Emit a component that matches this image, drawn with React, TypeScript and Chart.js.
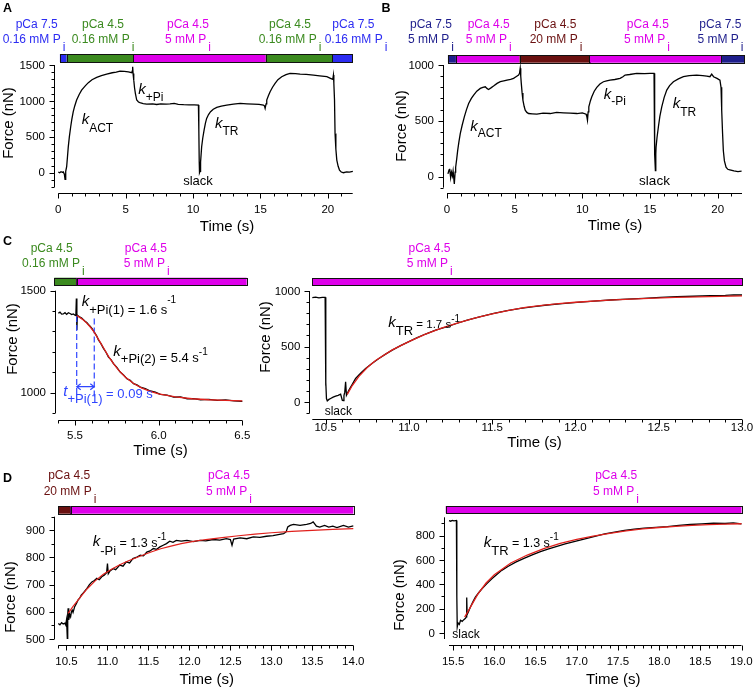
import React, { useEffect, useRef } from 'react';
import { Chart, registerables } from 'chart.js';

Chart.register(...registerables);

const W = 754;
const H = 690;
const FONT = '"Liberation Sans", Arial, Helvetica, sans-serif';

const BLUE = '#2c2cf2';
const GREEN = '#3b8a1f';
const MAGENTA = '#de00ea';
const NAVY = '#1e1e8c';
const DARKRED = '#6a1010';
const FIT_RED = '#e0201c';
const DASH_BLUE = '#2f45ff';

// ---------------- DATA ----------------
// Panel A
const aTrace: [number, number][] = [
  [0, 10], [0.1, 0], [0.2, 15], [0.3, 5], [0.37, 12], [0.45, -20], [0.5, -93], [0.55, 20], [0.62, 84], [0.68, 220],
  [0.74, 360], [0.82, 500], [0.92, 640], [1.0, 740], [1.11, 850], [1.22, 930], [1.36, 1012], [1.55, 1090], [1.73, 1150],
  [2.0, 1210], [2.23, 1254], [2.5, 1295], [2.85, 1328], [3.2, 1352], [3.59, 1374], [4.0, 1392], [4.3, 1400], [4.58, 1415],
  [4.9, 1410], [5.2, 1405], [5.45, 1393], [5.5, 1420], [5.52, 1476], [5.55, 1380], [5.6, 1290], [5.66, 1180], [5.72, 1105],
  [5.82, 1012], [5.95, 985], [6.06, 975], [6.3, 962], [6.56, 956], [7.0, 958], [7.3, 950], [7.6, 960], [8.0, 955],
  [8.29, 958], [8.6, 965], [8.9, 952], [9.3, 948], [9.7, 946], [10.1, 944], [10.4, 942], [10.43, 600], [10.46, 150],
  [10.48, 0], [10.52, 20], [10.56, 150], [10.64, 362], [10.72, 480], [10.82, 594], [10.92, 690], [11.01, 757],
  [11.15, 810], [11.3, 850], [11.5, 885], [11.76, 910], [12.1, 928], [12.5, 942], [13.0, 955], [13.5, 966], [14.0, 960],
  [14.48, 956], [14.9, 952], [15.22, 942], [15.3, 930], [15.35, 896], [15.42, 960], [15.47, 1012], [15.6, 1075],
  [15.72, 1128], [15.9, 1190], [16.09, 1244], [16.3, 1295], [16.58, 1337], [16.9, 1365], [17.2, 1384], [17.6, 1380],
  [17.95, 1374], [18.4, 1370], [18.94, 1360], [19.4, 1350], [19.93, 1337], [20.2, 1315], [20.37, 1300], [20.42, 1360],
  [20.45, 1250], [20.5, 1012], [20.54, 548], [20.6, 330], [20.67, 176], [20.77, 90], [20.87, 37], [21.0, 10],
  [21.16, 0], [21.4, 12], [21.6, 8], [21.86, 19],
];
const aBarEdges = [0.12, 0.62, 5.55, 15.4, 20.35, 21.85];
const aPCa = ['pCa 7.5', 'pCa 4.5', 'pCa 4.5', 'pCa 4.5', 'pCa 7.5'];
const aPi = ['0.16 mM P', '0.16 mM P', '5 mM P', '0.16 mM P', '0.16 mM P'];
const aXTicks = [0, 5, 10, 15, 20];
const aYTicks = [0, 500, 1000, 1500];

// Panel B
const bTrace: [number, number][] = [
  [0.07, 24], [0.15, 60], [0.2, 69], [0.27, -10], [0.33, 40], [0.4, 5], [0.45, 50], [0.54, -66], [0.6, 40], [0.64, 84],
  [0.72, 160], [0.79, 234], [0.88, 310], [0.98, 384], [1.12, 460], [1.28, 535], [1.44, 600], [1.6, 655], [1.8, 700],
  [1.97, 730], [2.2, 765], [2.46, 790], [2.65, 800], [2.83, 805], [2.95, 790], [3.07, 781], [3.25, 795], [3.44, 811],
  [3.7, 835], [3.94, 850], [4.2, 858], [4.43, 865], [4.7, 872], [4.92, 880], [5.1, 895], [5.29, 910], [5.36, 925],
  [5.41, 970], [5.45, 900], [5.49, 835], [5.55, 750], [5.61, 685], [5.7, 630], [5.78, 595], [5.9, 575], [6.03, 565],
  [6.3, 562], [6.64, 559], [7.1, 568], [7.63, 565], [8.1, 575], [8.6, 571], [9.1, 568], [9.6, 565], [10.0, 570],
  [10.28, 559], [10.33, 540], [10.38, 505], [10.43, 580], [10.48, 625], [10.6, 680], [10.7, 715], [10.88, 765],
  [11.07, 799], [11.3, 830], [11.56, 850], [11.8, 858], [12.05, 865], [12.4, 870], [12.79, 880], [13.0, 895],
  [13.16, 910], [13.5, 915], [14.02, 925], [14.6, 922], [15.0, 925], [15.3, 925], [15.33, 600], [15.36, 200],
  [15.4, 54], [15.43, 200], [15.45, 264], [15.52, 350], [15.62, 444], [15.73, 540], [15.87, 625], [16.05, 710],
  [16.24, 775], [16.45, 815], [16.73, 850], [17.1, 875], [17.47, 895], [17.9, 905], [18.45, 910], [18.9, 905],
  [19.2, 900], [19.43, 895], [19.56, 919], [19.7, 895], [19.95, 880], [20.17, 865], [20.25, 800], [20.3, 595],
  [20.36, 400], [20.42, 234], [20.5, 140], [20.62, 84], [20.75, 65], [20.9, 60], [21.2, 50], [21.5, 45], [21.77, 48],
];
const bBarEdges = [0.07, 0.66, 5.36, 10.5, 20.24, 21.95];
const bPCa = ['pCa 7.5', 'pCa 4.5', 'pCa 4.5', 'pCa 4.5', 'pCa 7.5'];
const bPi = ['5 mM P', '5 mM P', '20 mM P', '5 mM P', '5 mM P'];
const bXTicks = [0, 5, 10, 15, 20];
const bYTicks = [0, 500, 1000];

// Panel C (left)
const cLTrace: [number, number][] = [
  [5.4, 1389], [5.41, 1395], [5.42, 1385], [5.43, 1386], [5.44, 1392], [5.45, 1384], [5.46, 1392], [5.47, 1388],
  [5.48, 1383], [5.49, 1386], [5.5, 1380], [5.505, 1378], [5.508, 1462], [5.511, 1307], [5.514, 1380], [5.52, 1376],
  [5.53, 1370], [5.54, 1366], [5.55, 1358], [5.56, 1350], [5.57, 1344], [5.58, 1334], [5.59, 1326], [5.6, 1316],
  [5.61, 1304], [5.62, 1291], [5.63, 1277], [5.64, 1258], [5.655, 1240], [5.67, 1217], [5.685, 1198], [5.7, 1174],
  [5.715, 1162], [5.73, 1142], [5.75, 1124], [5.77, 1101], [5.79, 1087], [5.81, 1068], [5.83, 1060], [5.85, 1044],
  [5.87, 1038], [5.89, 1027], [5.92, 1020], [5.95, 1008], [5.98, 1002], [6.01, 991], [6.05, 988], [6.09, 978],
  [6.13, 979], [6.17, 970], [6.21, 971], [6.25, 965], [6.3, 967], [6.35, 962], [6.4, 964], [6.45, 959], [6.5, 957],
];
const cLFit: [number, number][] = [
  [5.51, 1378], [5.53, 1368], [5.55, 1356], [5.57, 1341], [5.59, 1323], [5.61, 1302], [5.63, 1276], [5.65, 1248],
  [5.67, 1220], [5.7, 1178], [5.73, 1142], [5.76, 1110], [5.8, 1077], [5.85, 1045], [5.9, 1022], [5.95, 1006],
  [6.0, 994], [6.1, 979], [6.2, 970], [6.3, 965], [6.4, 962], [6.5, 959],
];
const cLDash1: [number, number][] = [[5.51, 1376], [5.51, 980]];
const cLDash2: [number, number][] = [[5.615, 1364], [5.615, 980]];
const cLArrow: [number, number][] = [[5.51, 1029], [5.615, 1029]];
const cLBarEdges = [5.376, 5.51, 6.526];
const cLPCa = ['pCa 4.5', 'pCa 4.5'];
const cLPi = ['0.16 mM P', '5 mM P'];
const cLXTicks = [5.5, 6.0, 6.5];
const cLYTicks = [1000, 1500];

// Panel C (right)
const cRTrace: [number, number][] = [
  [10.42, 940], [10.44, 944], [10.46, 938], [10.48, 942], [10.497, 943], [10.5, 150], [10.502, 180], [10.505, 33],
  [10.51, 12], [10.52, 25], [10.53, 33], [10.545, 45], [10.56, 54], [10.575, 62], [10.59, 72], [10.6, 18], [10.605, 15],
  [10.61, 60], [10.615, 90], [10.62, 183], [10.625, 63], [10.64, 108], [10.66, 160], [10.68, 213], [10.71, 260],
  [10.74, 303], [10.78, 350], [10.82, 393], [10.86, 432], [10.9, 468], [10.95, 508], [11.0, 544], [11.05, 580],
  [11.1, 613], [11.16, 648], [11.23, 679], [11.29, 710], [11.35, 739], [11.43, 770], [11.51, 799], [11.59, 823],
  [11.67, 844], [11.75, 860], [11.83, 874], [11.92, 887], [12.01, 898], [12.11, 909], [12.21, 919], [12.31, 927],
  [12.41, 934], [12.51, 942], [12.61, 949], [12.71, 953], [12.81, 958], [12.9, 960], [12.95, 966], [13.0, 964],
];
const cRFit: [number, number][] = [
  [10.63, 70], [10.66, 150], [10.7, 232], [10.75, 312], [10.8, 375], [10.9, 470], [11.0, 545], [11.1, 612], [11.2, 668],
  [11.3, 715], [11.4, 758], [11.5, 795], [11.6, 825], [11.7, 852], [11.8, 870], [11.9, 886], [12.0, 899], [12.2, 918],
  [12.4, 932], [12.6, 942], [12.8, 950], [13.0, 956],
];
const cRBarEdges = [10.42, 13.0];
const cRPCa = ['pCa 4.5'];
const cRPi = ['5 mM P'];
const cRXTicks = [10.5, 11.0, 11.5, 12.0, 12.5, 13.0];
const cRYTicks = [0, 500, 1000];

// Panel D (left)
const dLTrace: [number, number][] = [
  [10.4, 557], [10.42, 552], [10.44, 560], [10.46, 555], [10.48, 558], [10.49, 552], [10.5, 570], [10.505, 540],
  [10.51, 502], [10.515, 590], [10.52, 613], [10.525, 575], [10.53, 570], [10.54, 590], [10.55, 582], [10.56, 600],
  [10.57, 606], [10.58, 598], [10.6, 619], [10.62, 630], [10.64, 643], [10.66, 650], [10.68, 661], [10.7, 668],
  [10.72, 675], [10.75, 686], [10.78, 700], [10.81, 710], [10.84, 715], [10.87, 723], [10.9, 718], [10.93, 729],
  [10.96, 735], [10.98, 741], [10.99, 745], [11.0, 778], [11.01, 740], [11.03, 750], [11.07, 759], [11.1, 755],
  [11.15, 772], [11.19, 768], [11.23, 784], [11.27, 780], [11.31, 796], [11.35, 800], [11.4, 808], [11.44, 806],
  [11.48, 820], [11.52, 824], [11.56, 833], [11.6, 830], [11.64, 839], [11.68, 845], [11.72, 851], [11.76, 860],
  [11.8, 856], [11.84, 863], [11.9, 860], [11.97, 863], [12.05, 858], [12.13, 863], [12.2, 861], [12.29, 866],
  [12.37, 864], [12.45, 869], [12.5, 866], [12.52, 845], [12.54, 868], [12.62, 872], [12.7, 869], [12.78, 876],
  [12.86, 874], [12.94, 878], [13.02, 880], [13.1, 885], [13.15, 888], [13.18, 894], [13.2, 912], [13.23, 918],
  [13.27, 922], [13.35, 918], [13.43, 922], [13.48, 925], [13.51, 931], [13.55, 915], [13.59, 912], [13.65, 918],
  [13.7, 912], [13.75, 915], [13.8, 910], [13.88, 918], [13.94, 912], [14.0, 916],
];
const dLFit: [number, number][] = [
  [10.52, 594], [10.58, 620], [10.66, 650], [10.75, 684], [10.85, 714], [10.95, 738], [11.05, 757], [11.15, 773],
  [11.25, 787], [11.35, 799], [11.45, 811], [11.55, 822], [11.65, 832], [11.75, 840], [11.9, 851], [12.05, 859],
  [12.2, 866], [12.4, 873], [12.6, 880], [12.8, 886], [13.0, 891], [13.25, 896], [13.5, 900], [13.75, 903], [14.0, 906],
];
const dLBarEdges = [10.4, 10.55, 14.0];
const dLPCa = ['pCa 4.5', 'pCa 4.5'];
const dLPi = ['20 mM P', '5 mM P'];
const dLXTicks = [10.5, 11.0, 11.5, 12.0, 12.5, 13.0, 13.5, 14.0];
const dLYTicks = [500, 600, 700, 800, 900];

// Panel D (right)
const dRTrace: [number, number][] = [
  [15.45, 923], [15.47, 918], [15.49, 925], [15.51, 920], [15.53, 922], [15.54, 923], [15.545, 300], [15.55, 49],
  [15.56, 82], [15.575, 70], [15.59, 104], [15.61, 95], [15.63, 109], [15.65, 120], [15.66, 131], [15.665, 290],
  [15.67, 150], [15.69, 180], [15.71, 213], [15.74, 255], [15.77, 295], [15.81, 330], [15.85, 363], [15.91, 405],
  [15.97, 445], [16.03, 480], [16.09, 514], [16.17, 548], [16.26, 582], [16.36, 612], [16.46, 642], [16.56, 668],
  [16.66, 691], [16.76, 712], [16.86, 732], [16.98, 752], [17.1, 773], [17.22, 794], [17.34, 814], [17.46, 828],
  [17.58, 842], [17.7, 852], [17.82, 861], [17.96, 868], [18.1, 874], [18.24, 884], [18.38, 891], [18.52, 896],
  [18.66, 902], [18.8, 899], [18.9, 904], [19.0, 896],
];
const dRFit: [number, number][] = [
  [15.64, 130], [15.7, 200], [15.8, 318], [15.9, 410], [16.0, 478], [16.2, 575], [16.4, 640], [16.6, 692], [16.8, 735],
  [17.0, 768], [17.2, 795], [17.4, 818], [17.6, 838], [17.8, 855], [18.0, 866], [18.2, 876], [18.4, 884], [18.6, 890],
  [18.8, 894], [19.0, 897],
];
const dRBarEdges = [15.41, 19.0];
const dRPCa = ['pCa 4.5'];
const dRPi = ['5 mM P'];
const dRXTicks = [15.5, 16.0, 16.5, 17.0, 17.5, 18.0, 18.5, 19.0];
const dRYTicks = [0, 200, 400, 600, 800];

// ---------------- LAYOUT / RENDERING ----------------
type Seg = { t: string; size: number; italic?: boolean; dy?: number };
type Note = { x: number; y: number; segs: Seg[]; color?: string; align?: 'left' | 'center' };
type Series = { data: [number, number][]; color: string; width: number; dash?: number[]; order: number };

interface Panel {
  key: string;
  xRange: [number, number];
  yRange: [number, number];
  area: [number, number, number, number];
  yAxisX: number;
  xAxisY: number;
  xMajor: number[];
  xMinor: number;
  xDec: number;
  yMajor: number[];
  yMinor: number;
  yMinorFrom?: number;
  xLabelY: number;
  xTitle: [number, number];
  yTitle: [number, number];
  bar: [number, number];
  barEdges: number[];
  barColors: string[];
  pCa: string[];
  pi: string[];
  headerX: number[][];
  headerColors: string[];
  headerY: [number, number];
  notes: Note[];
  letter: [string, number, number];
  series: Series[];
  arrow?: [number, number][];
}

function font(size: number, italic = false, bold = false) {
  return `${italic ? 'italic ' : ''}${bold ? 'bold ' : ''}${size}px ${FONT}`;
}

function drawRich(ctx: CanvasRenderingContext2D, n: Note) {
  ctx.textBaseline = 'alphabetic';
  ctx.textAlign = 'left';
  let total = 0;
  for (const s of n.segs) {
    ctx.font = font(s.size, s.italic);
    total += ctx.measureText(s.t).width;
  }
  let x = n.align === 'center' ? n.x - total / 2 : n.x;
  ctx.fillStyle = n.color || '#000';
  for (const s of n.segs) {
    ctx.font = font(s.size, s.italic);
    ctx.fillText(s.t, x, n.y + (s.dy || 0));
    x += ctx.measureText(s.t).width;
  }
}

function ticksBetween(min: number, max: number, step: number, from?: number) {
  const out: number[] = [];
  const base = from ?? 0;
  const n0 = Math.ceil((min - base) / step - 1e-6);
  const n1 = Math.floor((max - base) / step + 1e-6);
  for (let i = n0; i <= n1; i++) out.push(base + i * step);
  return out;
}

function makePlugin(p: Panel) {
  return {
    id: 'panel_' + p.key,
    afterDraw(chart: any) {
      const ctx: CanvasRenderingContext2D = chart.ctx;
      const xs = chart.scales.x;
      const ys = chart.scales.y;
      const px = (v: number) => xs.getPixelForValue(v);
      const py = (v: number) => ys.getPixelForValue(v);
      ctx.save();

      // condition bar
      for (let i = 0; i < p.barColors.length; i++) {
        const x0 = px(p.barEdges[i]);
        const x1 = px(p.barEdges[i + 1]);
        ctx.fillStyle = p.barColors[i];
        ctx.fillRect(x0, p.bar[0], x1 - x0, p.bar[1] - p.bar[0]);
        ctx.strokeStyle = '#111';
        ctx.lineWidth = 1;
        ctx.strokeRect(Math.round(x0) + 0.5, Math.round(p.bar[0]) + 0.5, Math.round(x1 - x0), Math.round(p.bar[1] - p.bar[0]));
      }

      // headers
      for (let i = 0; i < p.pCa.length; i++) {
        const [hx1, hx2] = p.headerX[i];
        ctx.fillStyle = p.headerColors[i];
        ctx.font = font(12);
        ctx.textAlign = 'center';
        ctx.textBaseline = 'middle';
        ctx.fillText(p.pCa[i], hx1, p.headerY[0]);
        const wMain = ctx.measureText(p.pi[i]).width;
        const wi = ctx.measureText('i').width;
        const tot = wMain + 2 + wi;
        const left = hx2 - tot / 2;
        ctx.textAlign = 'left';
        ctx.fillText(p.pi[i], left, p.headerY[1]);
        ctx.fillText('i', left + wMain + 2, p.headerY[1] + 8);
      }

      // axes
      ctx.strokeStyle = '#000';
      ctx.fillStyle = '#000';
      ctx.lineWidth = 1;
      const ax = Math.round(p.yAxisX) + 0.5;
      const ay = Math.round(p.xAxisY) + 0.5;
      ctx.beginPath();
      ctx.moveTo(ax, py(p.yRange[1]));
      ctx.lineTo(ax, py(p.yRange[0]));
      ctx.moveTo(px(p.xRange[0]), ay);
      ctx.lineTo(px(p.xRange[1]), ay);
      // y ticks
      for (const v of ticksBetween(p.yRange[0], p.yRange[1], p.yMinor, p.yMinorFrom)) {
        const major = p.yMajor.some((m) => Math.abs(m - v) < 1e-6);
        const y = Math.round(py(v)) + 0.5;
        ctx.moveTo(ax, y);
        ctx.lineTo(ax - (major ? 5 : 3), y);
      }
      for (const v of ticksBetween(p.xRange[0], p.xRange[1], p.xMinor)) {
        const major = p.xMajor.some((m) => Math.abs(m - v) < 1e-6);
        const x = Math.round(px(v)) + 0.5;
        ctx.moveTo(x, ay);
        ctx.lineTo(x, ay + (major ? 5 : 3));
      }
      ctx.stroke();

      // tick labels
      ctx.font = font(11.5);
      ctx.textAlign = 'right';
      ctx.textBaseline = 'middle';
      for (const v of p.yMajor) ctx.fillText(String(v), p.yAxisX - 9, py(v) + 0.5);
      ctx.textAlign = 'center';
      for (const v of p.xMajor) ctx.fillText(v.toFixed(p.xDec), px(v), p.xLabelY);

      // titles
      ctx.font = font(15);
      ctx.fillText('Time (s)', p.xTitle[0], p.xTitle[1]);
      ctx.save();
      ctx.translate(p.yTitle[0], p.yTitle[1]);
      ctx.rotate(-Math.PI / 2);
      ctx.fillText('Force (nN)', 0, 0);
      ctx.restore();

      // arrow
      if (p.arrow) {
        const x0 = px(p.arrow[0][0]);
        const x1 = px(p.arrow[1][0]);
        const y = py(p.arrow[0][1]);
        ctx.strokeStyle = DASH_BLUE;
        ctx.lineWidth = 1.2;
        ctx.beginPath();
        ctx.moveTo(x0, y);
        ctx.lineTo(x1, y);
        ctx.moveTo(x0 + 4, y - 3);
        ctx.lineTo(x0, y);
        ctx.lineTo(x0 + 4, y + 3);
        ctx.moveTo(x1 - 4, y - 3);
        ctx.lineTo(x1, y);
        ctx.lineTo(x1 - 4, y + 3);
        ctx.stroke();
      }

      // notes
      for (const n of p.notes) drawRich(ctx, n);

      // letter
      ctx.fillStyle = '#000';
      ctx.font = font(12.5, false, true);
      ctx.textAlign = 'left';
      ctx.textBaseline = 'alphabetic';
      ctx.fillText(p.letter[0], p.letter[1], p.letter[2]);

      ctx.restore();
    },
  };
}

const k = (t: string, sub: string, subDy: number, subSize = 12): Seg[] => [
  { t, size: 15, italic: true },
  { t: sub, size: subSize, dy: subDy },
];

const panels: Panel[] = [
  {
    key: 'A',
    xRange: [0, 21.85],
    yRange: [-200, 1500],
    area: [58.3, 65, 352.7, 187.1],
    yAxisX: 54,
    xAxisY: 193.3,
    xMajor: aXTicks, xMinor: 1, xDec: 0,
    yMajor: aYTicks, yMinor: 100,
    xLabelY: 209.5,
    xTitle: [227, 227],
    yTitle: [9, 123],
    bar: [54, 62],
    barEdges: aBarEdges,
    barColors: [BLUE, GREEN, MAGENTA, GREEN, BLUE],
    pCa: aPCa, pi: aPi,
    headerX: [[36.7, 34], [103, 103], [188, 188], [290, 290], [353.3, 356]],
    headerColors: [BLUE, GREEN, MAGENTA, GREEN, BLUE],
    headerY: [25, 40],
    notes: [
      { x: 81.7, y: 124, segs: k('k', 'ACT', 7.5) },
      { x: 138.3, y: 94, segs: k('k', '+Pi', 6.5) },
      { x: 215, y: 128.3, segs: k('k', 'TR', 6.7) },
      { x: 198, y: 185, segs: [{ t: 'slack', size: 13 }], align: 'center' },
    ],
    letter: ['A', 3, 11.7],
    series: [
      { data: aTrace, color: '#000', width: 1.3, order: 1 },
    ],
  },
  {
    key: 'B',
    xRange: [0, 21.8],
    yRange: [-100, 1000],
    area: [447, 65, 742, 187.7],
    yAxisX: 443,
    xAxisY: 193.3,
    xMajor: bXTicks, xMinor: 1, xDec: 0,
    yMajor: bYTicks, yMinor: 100,
    xLabelY: 210,
    xTitle: [615, 226],
    yTitle: [402, 126],
    bar: [55, 62.7],
    barEdges: bBarEdges,
    barColors: [NAVY, MAGENTA, DARKRED, MAGENTA, NAVY],
    pCa: bPCa, pi: bPi,
    headerX: [[431, 431], [488.7, 488.7], [555.3, 556], [647.8, 647], [720.3, 720.5]],
    headerColors: [NAVY, MAGENTA, DARKRED, MAGENTA, NAVY],
    headerY: [25, 40],
    notes: [
      { x: 470.3, y: 130.7, segs: k('k', 'ACT', 6.7) },
      { x: 603.7, y: 99.3, segs: k('k', '-Pi', 5.7) },
      { x: 672.7, y: 108.3, segs: k('k', 'TR', 8) },
      { x: 654.5, y: 185, segs: [{ t: 'slack', size: 13.5 }], align: 'center' },
    ],
    letter: ['B', 381.5, 11.7],
    series: [
      { data: bTrace, color: '#000', width: 1.3, order: 1 },
    ],
  },
  {
    key: 'CL',
    xRange: [5.4, 6.5],
    yRange: [900, 1500],
    area: [58.3, 290.7, 242.3, 413],
    yAxisX: 55,
    xAxisY: 420,
    xMajor: cLXTicks, xMinor: 0.1, xDec: 1,
    yMajor: cLYTicks, yMinor: 100,
    xLabelY: 435.7,
    xTitle: [160.5, 451],
    yTitle: [13, 339],
    bar: [277.7, 285],
    barEdges: cLBarEdges,
    barColors: [GREEN, MAGENTA],
    pCa: cLPCa, pi: cLPi,
    headerX: [[51.7, 53.3], [145.8, 146.7]],
    headerColors: [GREEN, MAGENTA],
    headerY: [248.3, 263.3],
    notes: [
      {
        x: 81.7, y: 306, segs: [
          { t: 'k', size: 15, italic: true },
          { t: '+Pi(1)', size: 13, dy: 7.5 },
          { t: ' = 1.6 s', size: 13, dy: 8 },
          { t: '-1', size: 10, dy: -3 },
        ],
      },
      {
        x: 113.3, y: 356, segs: [
          { t: 'k', size: 15, italic: true },
          { t: '+Pi(2)', size: 13, dy: 6.7 },
          { t: ' = 5.4 s', size: 13, dy: 5.7 },
          { t: '-1', size: 10, dy: -1.5 },
        ],
      },
      {
        x: 63.3, y: 396, color: DASH_BLUE, segs: [
          { t: 't', size: 15, italic: true },
          { t: '+Pi(1)', size: 13, dy: 7.3 },
          { t: ' = 0.09 s', size: 13, dy: 2.3 },
        ],
      },
    ],
    letter: ['C', 3, 245],
    series: [
      { data: cLFit, color: FIT_RED, width: 1.3, order: 0 },
      { data: cLTrace, color: '#000', width: 1.3, order: 1 },
      { data: cLDash1, color: DASH_BLUE, width: 1.2, dash: [6, 3], order: 0 },
      { data: cLDash2, color: DASH_BLUE, width: 1.2, dash: [6, 3], order: 0 },
    ],
    arrow: cLArrow,
  },
  {
    key: 'CR',
    xRange: [10.42, 13.0],
    yRange: [-100, 1000],
    area: [312.3, 291, 742, 413.3],
    yAxisX: 309.3,
    xAxisY: 418.7,
    xMajor: cRXTicks, xMinor: 0.1, xDec: 1,
    yMajor: cRYTicks, yMinor: 100,
    xLabelY: 428,
    xTitle: [534.5, 443],
    yTitle: [266, 337],
    bar: [278.3, 285.7],
    barEdges: cRBarEdges,
    barColors: [MAGENTA],
    pCa: cRPCa, pi: cRPi,
    headerX: [[429.5, 429.7]],
    headerColors: [MAGENTA],
    headerY: [248.3, 263.3],
    notes: [
      {
        x: 388.3, y: 326.7, segs: [
          { t: 'k', size: 15, italic: true },
          { t: 'TR', size: 13, dy: 8.3 },
          { t: ' = 1.7 s', size: 11.5, dy: 1.6 },
          { t: '-1', size: 10, dy: -4.7 },
        ],
      },
      { x: 338.3, y: 414.5, segs: [{ t: 'slack', size: 12 }], align: 'center' },
    ],
    letter: ['', 0, 0],
    series: [
      { data: cRFit, color: FIT_RED, width: 1.3, order: 0 },
      { data: cRTrace, color: '#000', width: 1.3, order: 1 },
    ],
  },
  {
    key: 'DL',
    xRange: [10.4, 14.0],
    yRange: [500, 950],
    area: [58.3, 516.7, 353.3, 639],
    yAxisX: 54,
    xAxisY: 645,
    xMajor: dLXTicks, xMinor: 0.1, xDec: 1,
    yMajor: dLYTicks, yMinor: 50,
    xLabelY: 661.7,
    xTitle: [206.7, 680],
    yTitle: [11, 597],
    bar: [506, 513.7],
    barEdges: dLBarEdges,
    barColors: [DARKRED, MAGENTA],
    pCa: dLPCa, pi: dLPi,
    headerX: [[69.2, 70], [229, 229]],
    headerColors: [DARKRED, MAGENTA],
    headerY: [476, 491.7],
    notes: [
      {
        x: 92.7, y: 546, segs: [
          { t: 'k', size: 15, italic: true },
          { t: '-Pi', size: 13, dy: 9 },
          { t: ' = 1.3 s', size: 12.5, dy: 1.3 },
          { t: '-1', size: 10, dy: -6 },
        ],
      },
    ],
    letter: ['D', 3, 481.7],
    series: [
      { data: dLFit, color: FIT_RED, width: 1.2, order: 0 },
      { data: dLTrace, color: '#000', width: 1.3, order: 1 },
    ],
  },
  {
    key: 'DR',
    xRange: [15.45, 19.0],
    yRange: [-50, 950],
    area: [449, 517.3, 741.5, 639],
    yAxisX: 444,
    xAxisY: 645,
    xMajor: dRXTicks, xMinor: 0.1, xDec: 1,
    yMajor: dRYTicks, yMinor: 100,
    xLabelY: 662,
    xTitle: [613.3, 680],
    yTitle: [400, 595],
    bar: [506, 513.3],
    barEdges: dRBarEdges,
    barColors: [MAGENTA],
    pCa: dRPCa, pi: dRPi,
    headerX: [[616.2, 616]],
    headerColors: [MAGENTA],
    headerY: [476, 491.7],
    notes: [
      {
        x: 483.7, y: 547.3, segs: [
          { t: 'k', size: 15, italic: true },
          { t: 'TR', size: 13, dy: 7.7 },
          { t: ' = 1.3 s', size: 12.5, dy: 0 },
          { t: '-1', size: 10, dy: -7.3 },
        ],
      },
      { x: 466, y: 638.3, segs: [{ t: 'slack', size: 12 }], align: 'center' },
    ],
    letter: ['', 0, 0],
    series: [
      { data: dRFit, color: FIT_RED, width: 1.3, order: 0 },
      { data: dRTrace, color: '#000', width: 1.3, order: 1 },
    ],
  },
];

function PanelCanvas({ p }: { p: Panel }) {
  const ref = useRef<HTMLCanvasElement | null>(null);
  useEffect(() => {
    if (!ref.current) return;
    const [l, t, r, b] = p.area;
    const chart = new Chart(ref.current, {
      type: 'line',
      data: {
        datasets: p.series.map((s) => ({
          data: s.data.map(([x, y]) => ({ x, y })),
          borderColor: s.color,
          borderWidth: s.width,
          borderDash: s.dash || [],
          pointRadius: 0,
          fill: false,
          tension: 0,
          order: s.order,
          clip: 4,
        })),
      },
      options: {
        animation: false,
        responsive: false,
        maintainAspectRatio: false,
        devicePixelRatio: 1,
        events: [],
        layout: { padding: { left: l, top: t, right: W - r, bottom: H - b } },
        plugins: { legend: { display: false }, tooltip: { enabled: false }, title: { display: false } },
        scales: {
          x: { type: 'linear', min: p.xRange[0], max: p.xRange[1], display: false },
          y: { type: 'linear', min: p.yRange[0], max: p.yRange[1], display: false },
        },
      },
      plugins: [makePlugin(p)],
    } as any);
    return () => chart.destroy();
  }, [p]);
  return (
    <canvas
      ref={ref}
      width={W}
      height={H}
      style={{ position: 'absolute', left: 0, top: 0, width: W, height: H }}
    />
  );
}

export default function App() {
  return (
    <div style={{ position: 'absolute', left: 0, top: 0, width: W, height: H, background: '#fff', overflow: 'hidden' }}>
      {panels.map((p) => (
        <PanelCanvas key={p.key} p={p} />
      ))}
    </div>
  );
}
